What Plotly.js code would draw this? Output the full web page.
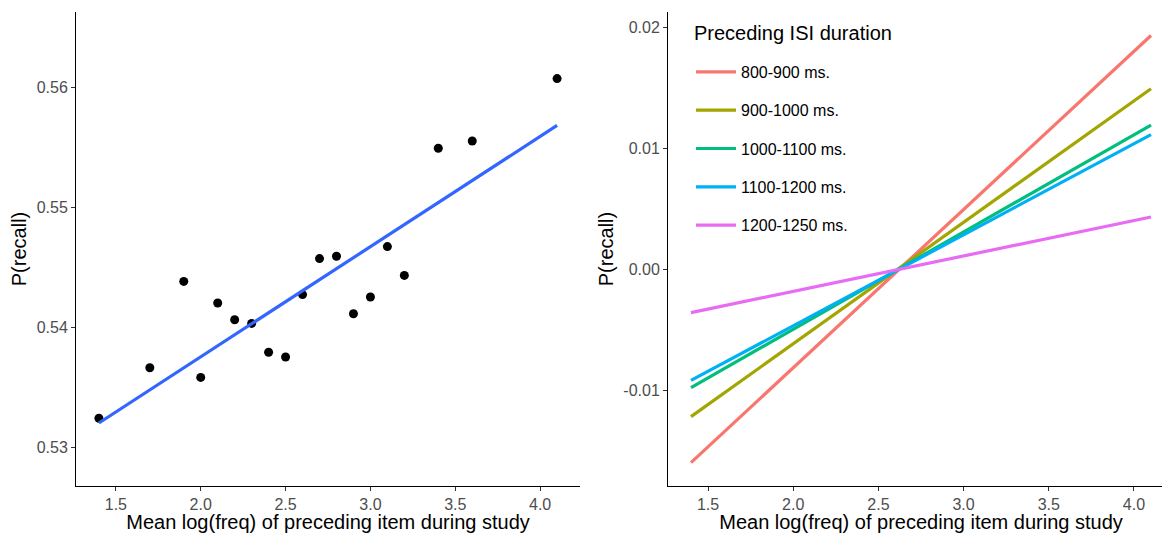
<!DOCTYPE html>
<html><head><meta charset="utf-8">
<script src="https://cdn.plot.ly/plotly-3.0.1.min.js"></script>
<style>html,body{margin:0;padding:0;overflow:hidden;background:#fff;}#chart{width:1174px;height:533px;}</style>
</head><body><div id="chart"></div>
<script>
// Left panel: points
const freqX = [1.4, 1.7, 1.9, 2.0, 2.1, 2.2, 2.3, 2.4, 2.5, 2.6, 2.7, 2.8, 2.9, 3.0, 3.1, 3.2, 3.4, 3.6, 4.1];
const recallY = [0.5324, 0.5366, 0.5438, 0.5358, 0.5420, 0.5406, 0.5403, 0.5379, 0.5375, 0.5427, 0.5457, 0.5459, 0.5411, 0.5425, 0.5467, 0.5443, 0.5549, 0.5555, 0.5607];
// Left panel: fitted line
const fitX = [1.4, 4.1];
const fitY = [0.5320, 0.5568];
// Right panel: lines per ISI duration
const legendTitle = "Preceding ISI duration";
const isiLabels = ["800-900 ms.", "900-1000 ms.", "1000-1100 ms.", "1100-1200 ms.", "1200-1250 ms."];
const isiX = [1.4, 4.1];
const isi800 = [-0.0160, 0.0193];
const isi900 = [-0.0122, 0.0149];
const isi1000 = [-0.0098, 0.0119];
const isi1100 = [-0.0092, 0.0111];
const isi1200 = [-0.0036, 0.0043];
const isiColors = ["#F8766D", "#A3A500", "#00BF7D", "#00B0F6", "#E76BF3"];

const W = 1174;
const FONT = "Liberation Sans, Arial, sans-serif";
const traces = [
  {x: freqX, y: recallY, type: "scatter", mode: "markers", marker: {color: "#000", size: 9}, xaxis: "x", yaxis: "y", showlegend: false, cliponaxis: false},
  {x: fitX, y: fitY, type: "scatter", mode: "lines", line: {color: "#3366FF", width: 3.2}, xaxis: "x", yaxis: "y", showlegend: false}
];
const isiY = [isi800, isi900, isi1000, isi1100, isi1200];
isiLabels.forEach((lab, i) => {
  traces.push({x: isiX, y: isiY[i], type: "scatter", mode: "lines", name: lab, legendgroup: "g" + i,
    line: {color: isiColors[i], width: 3.2}, xaxis: "x2", yaxis: "y2"});
});

const tickFont = {family: FONT, size: 16, color: "#4d4d4d"};
const titleFont = {family: FONT, size: 20, color: "#000"};
const axBase = {showline: true, linecolor: "#000", linewidth: 1, showgrid: false, zeroline: false,
  ticks: "outside", ticklen: 4, tickcolor: "#333", tickwidth: 1, tickfont: tickFont};

const layout = {
  width: W, height: 533,
  margin: {l: 0, r: 0, t: 12, b: 47},
  paper_bgcolor: "#fff", plot_bgcolor: "#fff",
  font: {family: FONT},
  xaxis: Object.assign({}, axBase, {domain: [76 / W, 580 / W], range: [1.265, 4.235], tickvals: [1.5, 2, 2.5, 3, 3.5, 4], ticktext: ["1.5", "2.0", "2.5", "3.0", "3.5", "4.0"],
    title: {text: "Mean log(freq) of preceding item during study", font: titleFont, standoff: 2}, anchor: "y"}),
  yaxis: Object.assign({}, axBase, {domain: [0, 1], range: [0.52675, 0.56625], tickvals: [0.53, 0.54, 0.55, 0.56], ticktext: ["0.53", "0.54", "0.55", "0.56"],
    title: {text: "P(recall)", font: titleFont, standoff: 4}, anchor: "x"}),
  xaxis2: Object.assign({}, axBase, {domain: [668 / W, 1], range: [1.265, 4.235], tickvals: [1.5, 2, 2.5, 3, 3.5, 4], ticktext: ["1.5", "2.0", "2.5", "3.0", "3.5", "4.0"],
    title: {text: "Mean log(freq) of preceding item during study", font: titleFont, standoff: 2}, anchor: "y2"}),
  yaxis2: Object.assign({}, axBase, {domain: [0, 1], range: [-0.01793, 0.02124], tickvals: [-0.01, 0, 0.01, 0.02], ticktext: ["-0.01", "0.00", "0.01", "0.02"],
    title: {text: "P(recall)", font: titleFont, standoff: 4}, anchor: "x2"}),
  showlegend: true,
  legend: {x: 691 / W, y: (486 - 55) / 474, xanchor: "left", yanchor: "top", bgcolor: "rgba(0,0,0,0)",
    font: {family: FONT, size: 16, color: "#000"},
    tracegroupgap: 14.5, itemwidth: 40},
  annotations: [{text: legendTitle, xref: "paper", yref: "paper", x: 692 / W, y: (486 - 33) / 474, xanchor: "left", yanchor: "middle",
    showarrow: false, font: {family: FONT, size: 20, color: "#000"}}]
};
Plotly.newPlot("chart", traces, layout, {displayModeBar: false, staticPlot: true});
</script></body></html>
